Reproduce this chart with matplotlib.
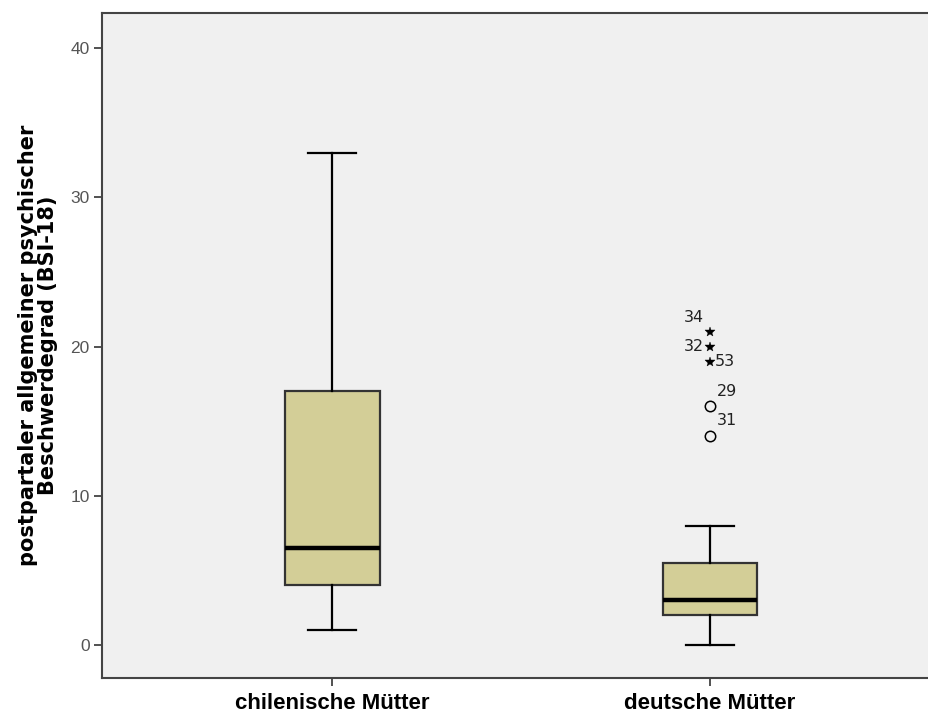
import matplotlib
matplotlib.use("Agg")
import matplotlib.pyplot as plt

# Groups and five-number summaries (BSI-18 scores)
groups = ["chilenische Mütter", "deutsche Mütter"]
whislo = [1, 0]
q1 = [4, 2]
med = [6.5, 3]
q3 = [17, 5.5]
whishi = [33, 8]

# Outliers of the German group: (case id, value)
outlier_ids = ["29", "31"]
outlier_vals = [16, 14]
extreme_ids = ["34", "32", "53"]
extreme_vals = [21, 20, 19]

y_ticks = [0, 10, 20, 30, 40]
y_label = "postpartaler allgemeiner psychischer\nBeschwerdegrad (BSI-18)"

fig = plt.figure(figsize=(9.29, 7.14), dpi=100)
ax = fig.add_axes([0.1098, 0.0504, 0.8902, 0.9314])
ax.set_facecolor("#f0f0f0")

positions = [1, 2]
stats = []
for i, g in enumerate(groups):
    stats.append(dict(label=g, whislo=whislo[i], q1=q1[i], med=med[i],
                      q3=q3[i], whishi=whishi[i], fliers=[]))

ax.bxp(stats, positions=positions, widths=0.25, patch_artist=True,
       showfliers=False,
       boxprops=dict(facecolor="#d3ce97", edgecolor="#333333", linewidth=1.6),
       medianprops=dict(color="black", linewidth=3.2),
       whiskerprops=dict(color="black", linewidth=1.6),
       capprops=dict(color="black", linewidth=1.6),
       capwidths=0.127)

# mild outliers (circles) and extreme values (stars)
xg = positions[1]
ax.plot([xg] * len(outlier_vals), outlier_vals, linestyle="none", marker="o",
        markersize=7.5, markerfacecolor="none", markeredgecolor="black",
        markeredgewidth=1.1, zorder=5)
ax.plot([xg] * len(extreme_vals), extreme_vals, linestyle="none", marker="*",
        markersize=7, markeredgewidth=0.3, color="black", zorder=5)

lab_kw = dict(fontsize=11.5, color="#222222", family="DejaVu Sans",
              ha="center", va="center")
offsets = {"34": (-11.5, 10), "32": (-11.5, 0), "53": (10.8, 0),
           "29": (12.2, 10.8), "31": (12.2, 11.5)}
for cid, v in zip(extreme_ids + outlier_ids, extreme_vals + outlier_vals):
    ax.annotate(cid, (xg, v), xytext=offsets[cid], textcoords="offset points",
                **lab_kw)

ax.set_xlim(0.39, 2.58)
ax.set_ylim(-2.2, 42.35)
ax.set_yticks(y_ticks)
ax.set_yticklabels([str(t) for t in y_ticks], fontsize=12.5, color="#555555",
                   family="Liberation Sans")
ax.set_xticks(positions)
ax.set_xticklabels(groups, fontsize=16, fontweight="bold",
                   family="Liberation Sans")
ax.tick_params(axis="y", length=6, width=1.2, color="#333333", pad=3)
ax.tick_params(axis="x", length=6, width=1.2, color="#333333", pad=5)

ax.set_ylabel(y_label, fontsize=15, fontweight="bold", family="DejaVu Sans",
              linespacing=1.0, labelpad=9)

for side in ["left", "bottom", "top"]:
    ax.spines[side].set_color("#444444")
    ax.spines[side].set_linewidth(1.5)
ax.spines["right"].set_visible(False)

fig.savefig("out.png", dpi=100, facecolor="white")
